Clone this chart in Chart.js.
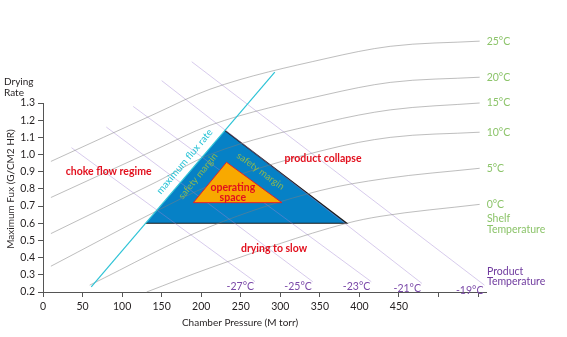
<!DOCTYPE html>
<html>
<head>
<meta charset="utf-8">
<script src="https://cdn.jsdelivr.net/npm/chart.js@4.4.1/dist/chart.umd.min.js"></script>
<style>
  html, body { margin: 0; padding: 0; background: #fff; }
  #wrap { width: 567px; height: 337px; position: relative; }
</style>
</head>
<body>
<div id="wrap"><canvas id="chart_design"></canvas></div>
<script>
// DATA
const xTickValues = [0, 50, 100, 150, 200, 250, 300, 350, 400, 450, 500, 550];
const yTickValues = [0.2, 0.3, 0.4, 0.5, 0.6, 0.7, 0.8, 0.9, 1.0, 1.1, 1.2, 1.3];

// shelf temperature curves (chamber pressure / flux)
const shelfLabels = ['25°C', '20°C', '15°C', '10°C', '5°C', '0°C'];
const shelfPressure = [
  [10, 143, 211, 359, 439, 552],
  [10, 143, 211, 359, 439, 552],
  [10, 143, 211, 359, 439, 552],
  [10, 143, 211, 359, 439, 552],
  [59, 211, 350, 432, 552],
  [131, 211, 384, 426, 552]
];
const shelfFlux = [
  [0.96, 1.24, 1.38, 1.56, 1.63, 1.66],
  [0.75, 1.03, 1.17, 1.35, 1.42, 1.45],
  [0.54, 0.84, 1.00, 1.19, 1.26, 1.30],
  [0.35, 0.67, 0.82, 1.03, 1.10, 1.13],
  [0.24, 0.58, 0.79, 0.86, 0.92],
  [0.20, 0.34, 0.60, 0.64, 0.71]
];

// product temperature lines
const productLabels = ['-27°C', '-25°C', '-23°C', '-21°C', '-19°C'];
const productStartX = [36, 80, 114, 150, 188];
const productStartY = [1.04, 1.16, 1.28, 1.43, 1.54];
const productEndX = [268, 341, 415, 479, 558];
const productEndY = [0.26, 0.26, 0.26, 0.25, 0.24];

// design space triangles and max flux line
const marginX = [130, 230, 384, 130];
const marginY = [0.60, 1.14, 0.60, 0.60];
const operatingX = [190, 232, 302, 190];
const operatingY = [0.72, 0.955, 0.72, 0.72];
const maxFluxX = [61, 293];
const maxFluxY = [0.23, 1.48];

function toPoints(xs, ys) {
  return xs.map(function(v, i) { return {x: v, y: ys[i]}; });
}

// DATASETS
const FONT = 'Lato, "Open Sans", sans-serif';
let datasets = [];

datasets.push({
  label: 'maximum flux rate',
  data: toPoints(maxFluxX, maxFluxY),
  borderColor: '#2ec3d6',
  borderWidth: 1.2,
  pointRadius: 0,
  clip: false
});

datasets.push({
  label: 'operating space',
  data: toPoints(operatingX, operatingY),
  borderColor: '#e3202a',
  borderWidth: 1,
  backgroundColor: '#f8a900',
  fill: 'shape',
  pointRadius: 0,
  tension: 0
});

for (let i = 0; i < shelfLabels.length; i++) {
  datasets.push({
    label: shelfLabels[i],
    data: toPoints(shelfPressure[i], shelfFlux[i]),
    borderColor: 'rgba(125,125,125,0.5)',
    borderWidth: 1,
    pointRadius: 0,
    cubicInterpolationMode: 'monotone',
    clip: false
  });
}

for (let i = 0; i < productLabels.length; i++) {
  datasets.push({
    label: productLabels[i],
    data: toPoints([productStartX[i], productEndX[i]], [productStartY[i], productEndY[i]]),
    borderColor: 'rgba(160,130,210,0.42)',
    borderWidth: 1,
    pointRadius: 0,
    clip: false
  });
}

datasets.push({
  label: 'safety margin',
  data: toPoints(marginX, marginY),
  backgroundColor: '#0681c6',
  borderWidth: 1.2,
  fill: 'shape',
  pointRadius: 0,
  tension: 0,
  segment: {
    borderColor: function(c) { return c.p0DataIndex === 0 ? 'rgba(0,0,0,0)' : '#1d1d1d'; }
  }
});

// TEXT
function drawText(ctx, str, px, py, font, color, align, angle) {
  ctx.save();
  ctx.translate(px, py);
  if (angle) ctx.rotate(angle * Math.PI / 180);
  ctx.font = font;
  ctx.fillStyle = color;
  ctx.textAlign = align || 'center';
  ctx.textBaseline = 'middle';
  ctx.fillText(str, 0, 0);
  ctx.restore();
}

const textPlugin = {
  id: 'designText',
  afterDatasetsDraw(chart) {
    const ctx = chart.ctx;
    const xs = chart.scales.x;
    const ys = chart.scales.y;
    const red = '#e2101e';
    const bold = 'bold 10.5px ' + FONT;
    const px = function(v) { return xs.getPixelForValue(v); };
    const py = function(v) { return ys.getPixelForValue(v); };

    drawText(ctx, 'choke flow regime', px(83), py(0.90), bold, red);
    drawText(ctx, 'product collapse', px(354), py(0.978), bold, red);
    drawText(ctx, 'drying to slow', px(292), py(0.452), bold, red);
    drawText(ctx, 'operating', px(240), py(0.807), bold, red);
    drawText(ctx, 'space', px(240), py(0.752), bold, red);
    drawText(ctx, 'maximum flux rate', px(179), py(0.959), '10px ' + FONT, '#29c3d6', 'center', -50);
    drawText(ctx, 'safety margin', px(196), py(0.875), '9.5px ' + FONT, '#8cb850', 'center', -51);
    drawText(ctx, 'safety margin', px(275), py(0.904), '9.5px ' + FONT, '#8cb850', 'center', 36);

    // shelf temperature labels at curve ends
    const green = '#8cc46a';
    let lastY = 0;
    for (let i = 0; i < shelfLabels.length; i++) {
      const n = shelfPressure[i].length - 1;
      lastY = py(shelfFlux[i][n]);
      drawText(ctx, shelfLabels[i], px(shelfPressure[i][n]) + 7, lastY, '10.5px ' + FONT, green, 'left');
    }
    drawText(ctx, 'Shelf', 487, lastY + 14, '10.5px ' + FONT, green, 'left');
    drawText(ctx, 'Temperature', 487, lastY + 25, '10.5px ' + FONT, green, 'left');

    // product temperature labels at line ends
    const purple = '#7a48a8';
    for (let i = 0; i < productLabels.length; i++) {
      drawText(ctx, productLabels[i], px(productEndX[i]) - 1, py(productEndY[i]) + 5, '10.5px ' + FONT, purple, 'right');
    }
    drawText(ctx, 'Product', 487, 272, '10.5px ' + FONT, '#6f3a9e', 'left');
    drawText(ctx, 'Temperature', 487, 282, '10.5px ' + FONT, '#6f3a9e', 'left');

    // axis titles
    const dark = '#231f20';
    drawText(ctx, 'Drying', 4, 82, '10px ' + FONT, dark, 'left');
    drawText(ctx, 'Rate', 4, 93, '10px ' + FONT, dark, 'left');
    drawText(ctx, 'Maximum Fux (G/CM2 HR)', 11, 189, '10px ' + FONT, dark, 'center', -90);
    drawText(ctx, 'Chamber Pressure (M torr)', 240, 323, '10px ' + FONT, dark, 'center');
  }
};

// CHART
const ctx_design = document.getElementById('chart_design');

const chart_design = new Chart(ctx_design, {
  type: 'line',
  data: { datasets: datasets },
  plugins: [textPlugin],
  options: {
    responsive: true,
    maintainAspectRatio: false,
    animation: false,
    layout: { padding: { top: 103, right: 81, bottom: 0, left: 0 } },
    plugins: {
      legend: { display: false },
      tooltip: { enabled: false }
    },
    scales: {
      x: {
        type: 'linear',
        min: 0,
        max: 560,
        afterBuildTicks: function(scale) {
          scale.ticks = xTickValues.map(function(v) { return {value: v}; });
        },
        afterFit: function(scale) { scale.height = 45; },
        grid: { drawOnChartArea: false, drawTicks: true, tickLength: 5, color: '#555' },
        border: { display: true, color: '#555', width: 1 },
        ticks: {
          color: '#231f20',
          padding: 3,
          maxRotation: 0,
          font: { family: FONT, size: 10.5 },
          callback: function(v) { return v <= 450 ? String(v) : ''; }
        }
      },
      y: {
        type: 'linear',
        min: 0.2,
        max: 1.3,
        afterBuildTicks: function(scale) {
          scale.ticks = yTickValues.map(function(v) { return {value: v}; });
        },
        afterFit: function(scale) { scale.width = 43; },
        grid: { drawOnChartArea: false, drawTicks: true, tickLength: 5, color: '#555' },
        border: { display: true, color: '#555', width: 1 },
        ticks: {
          color: '#231f20',
          padding: 3,
          font: { family: FONT, size: 10.5 },
          callback: function(v) { return Number(v).toFixed(1); }
        }
      }
    }
  }
});
</script>
</body>
</html>
